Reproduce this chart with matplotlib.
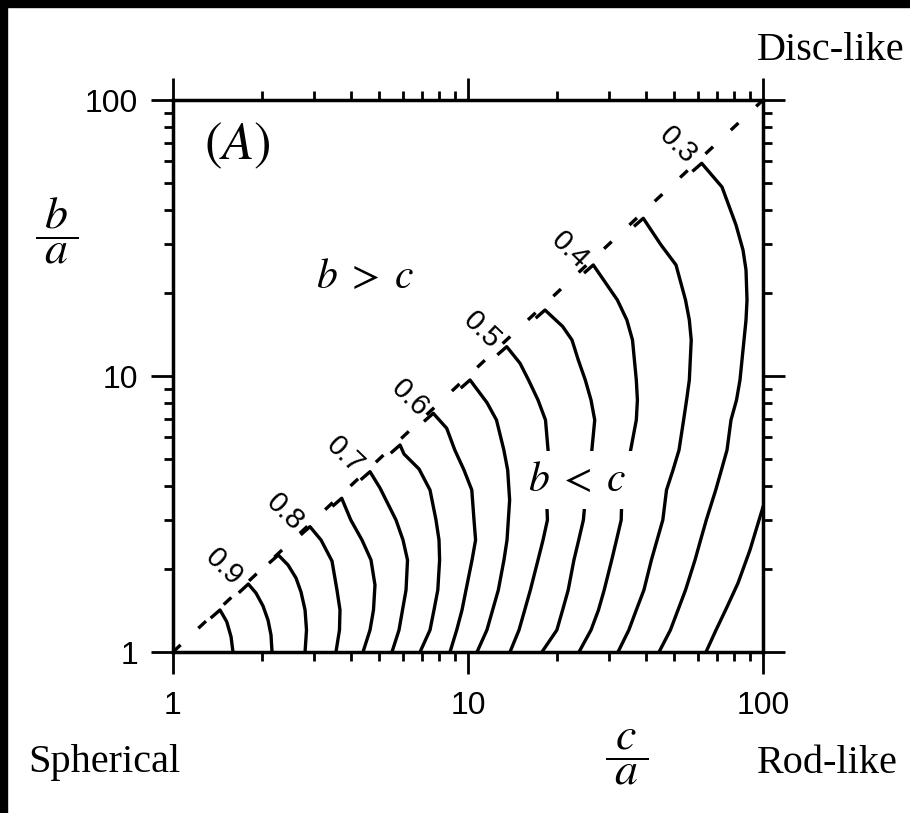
import matplotlib
matplotlib.use("Agg")
import matplotlib.pyplot as plt
from matplotlib.patches import Rectangle

plt.rcParams['font.family'] = ['Liberation Sans', 'DejaVu Sans']
plt.rcParams['mathtext.fontset'] = 'stix'
plt.rcParams['lines.scale_dashes'] = False

# contour levels, one curve per level (c/a on x, b/a on y)
levels = [0.95, 0.9, 0.85, 0.8, 0.75, 0.7, 0.65, 0.6, 0.55, 0.5, 0.45, 0.4, 0.35, 0.3, 0.25]
contour_c = [
    [1.355, 1.443, 1.521, 1.573, 1.597],
    [1.687, 1.800, 1.911, 2.019, 2.099, 2.149, 2.166],
    [2.136, 2.275, 2.454, 2.612, 2.716, 2.803, 2.835, 2.803],
    [2.735, 2.913, 3.176, 3.459, 3.596, 3.682, 3.667, 3.568],
    [3.503, 3.731, 4.006, 4.372, 4.690, 4.838, 4.782, 4.654, 4.407],
    [4.370, 4.654, 5.031, 5.701, 6.022, 6.237, 6.165, 5.998, 5.836, 5.525],
    [5.524, 5.883, 6.069, 6.823, 7.433, 7.790, 7.975, 8.012, 7.900, 7.669, 7.433, 6.877],
    [7.162, 7.627, 8.469, 9.021, 9.692, 10.30, 10.48, 10.61, 10.32, 9.845, 9.544, 9.156, 8.690],
    [9.54, 10.16, 11.60, 12.49, 13.23, 13.63, 13.84, 13.56, 13.24, 12.67, 12.12, 11.59, 10.73],
    [12.70, 13.53, 15.01, 16.04, 17.27, 18.31, 18.72, 18.49, 18.59, 17.96, 17.27, 16.27, 15.57,
     14.89, 13.88],
    [17.13, 18.24, 20.93, 22.52, 23.65, 24.98, 26.12, 26.89, 26.26, 24.93, 24.61, 23.73, 22.86,
     21.86, 20.93, 20.01, 17.81],
    [24.97, 26.59, 32.09, 34.56, 36.11, 37.20, 37.52, 37.20, 35.42, 33.19, 33.06, 31.87, 30.70,
     28.95, 27.69, 26.12, 23.78],
    [36.88, 39.28, 45.11, 50.71, 54.62, 56.27, 57.11, 56.27, 55.08, 53.81, 51.92, 49.54, 47.09,
     45.75, 43.75, 41.85, 39.47, 37.20, 35.09, 32.25],
    [58.19, 61.97, 72.61, 81.00, 85.55, 87.58, 88.27, 87.58, 86.22, 83.56, 81.32, 77.89, 75.51,
     72.28, 69.14, 64.24, 61.44, 58.82, 54.62, 51.51, 48.54, 44.42],
    [64.09, 69.30, 75.51, 82.29, 90.34, 100.0],
]
contour_b = [
    [1.339, 1.420, 1.288, 1.136, 1.0],
    [1.654, 1.763, 1.636, 1.468, 1.306, 1.152, 1.0],
    [2.117, 2.245, 2.067, 1.854, 1.650, 1.420, 1.201, 1.0],
    [2.682, 2.844, 2.545, 2.136, 1.677, 1.420, 1.201, 1.0],
    [3.400, 3.606, 3.008, 2.545, 2.154, 1.749, 1.420, 1.201, 1.0],
    [4.244, 4.500, 3.929, 3.008, 2.545, 2.154, 1.677, 1.420, 1.201, 1.0],
    [5.302, 5.623, 5.216, 4.603, 3.864, 3.008, 2.545, 2.154, 1.677, 1.420, 1.201, 1.0],
    [6.907, 7.325, 6.464, 5.393, 4.564, 3.864, 3.008, 2.545, 2.154, 1.677, 1.420, 1.201, 1.0],
    [9.12, 9.672, 8.003, 6.927, 5.393, 4.564, 3.553, 2.545, 2.154, 1.677, 1.420, 1.201, 1.0],
    [12.04, 12.77, 11.12, 9.672, 8.185, 6.927, 5.248, 3.504, 3.008, 2.545, 2.154, 1.677, 1.420,
     1.201, 1.0],
    [16.35, 17.34, 15.12, 13.50, 11.43, 9.672, 8.185, 6.927, 5.317, 3.504, 3.008, 2.545, 2.154,
     1.677, 1.420, 1.201, 1.0],
    [23.81, 25.25, 18.85, 15.95, 13.50, 9.672, 8.185, 6.927, 5.248, 3.504, 3.008, 2.545, 2.154,
     1.677, 1.420, 1.201, 1.0],
    [35.15, 37.27, 29.84, 25.25, 18.85, 15.95, 13.50, 9.672, 8.185, 6.927, 5.393, 4.564, 3.864,
     3.008, 2.545, 2.154, 1.677, 1.420, 1.201, 1.0],
    [55.61, 58.97, 48.40, 35.25, 28.61, 24.22, 18.85, 15.95, 13.50, 9.672, 8.185, 6.927, 5.393,
     4.564, 3.864, 3.008, 2.545, 2.154, 1.677, 1.420, 1.201, 1.0],
    [1.0, 1.201, 1.456, 1.778, 2.342, 3.353],
]

# labels written next to the b = c line
label_text = ['0.9', '0.8', '0.7', '0.6', '0.5', '0.4', '0.3']
label_c = [1.49, 2.40, 3.83, 6.36, 11.15, 22.2, 51.5]
label_b = [2.03, 3.22, 5.17, 8.32, 14.68, 28.6, 68.7]

diag = [1, 100]
ticks = [1, 10, 100]
tick_labels = ['1', '10', '100']

W, H = 910, 813
fig = plt.figure(figsize=(W / 100, H / 100), dpi=100)
ax = fig.add_axes([173 / W, 161 / H, 590 / W, 552 / H])

# black scan border on top and left
fig.patches.append(Rectangle((0, 1 - 7 / H), 1, 7 / H, transform=fig.transFigure,
                             color='black', zorder=10))
fig.patches.append(Rectangle((0, 0), 7 / W, 1, transform=fig.transFigure,
                             color='black', zorder=10))

ax.plot(diag, diag, color='black', lw=2.4, dashes=(7.5, 17.5), zorder=2)

for cc, bb in zip(contour_c, contour_b):
    ax.plot(cc, bb, color='black', lw=2.4, solid_joinstyle='round', zorder=3)

for t, cc, bb in zip(label_text, label_c, label_b):
    ax.text(cc, bb, t, rotation=-44, ha='center', va='center', fontsize=21,
            rotation_mode='anchor', zorder=4)

ax.set_xscale('log')
ax.set_yscale('log')
ax.set_xlim(1, 100)
ax.set_ylim(1, 100)
ax.set_xticks(ticks)
ax.set_xticklabels(tick_labels)
ax.set_yticks(ticks)
ax.set_yticklabels(tick_labels)

for s in ax.spines.values():
    s.set_linewidth(2.5)
ax.tick_params(which='both', direction='out', top=True, right=True, width=2.0)
ax.tick_params(which='major', length=16, labelsize=23)
ax.tick_params(axis='x', which='major', pad=12)
ax.tick_params(axis='y', which='major', pad=9)
ax.tick_params(which='minor', length=6.5)

serif = 'Liberation Serif'
fig.text(237 / W, 1 - 146 / H, r'$(A)$', fontsize=38, ha='center', va='center')
fig.text(365 / W, 1 - 277 / H, r'$b\;>\;c$', fontsize=30, ha='center', va='center')
fig.text(577 / W, 1 - 480 / H, r'$b\;<\;c$', fontsize=30, ha='center', va='center',
         bbox=dict(boxstyle='square,pad=0.22', fc='white', ec='none'), zorder=5)
fig.text(57 / W, 1 - 231 / H, r'$\dfrac{\;b\;}{\;a\;}$', fontsize=33, ha='center', va='center')
fig.text(627 / W, 1 - 757 / H, r'$\dfrac{\;c\;}{\;a\;}$', fontsize=33, ha='center', va='center')
fig.text(757 / W, 1 - 60 / H, 'Disc-like', family=serif, fontsize=29, ha='left', va='baseline')
fig.text(28 / W, 1 - 772 / H, 'Spherical', family=serif, fontsize=29, ha='left', va='baseline')
fig.text(757 / W, 1 - 773 / H, 'Rod-like', family=serif, fontsize=29, ha='left', va='baseline')

fig.savefig('out.png', dpi=100)
